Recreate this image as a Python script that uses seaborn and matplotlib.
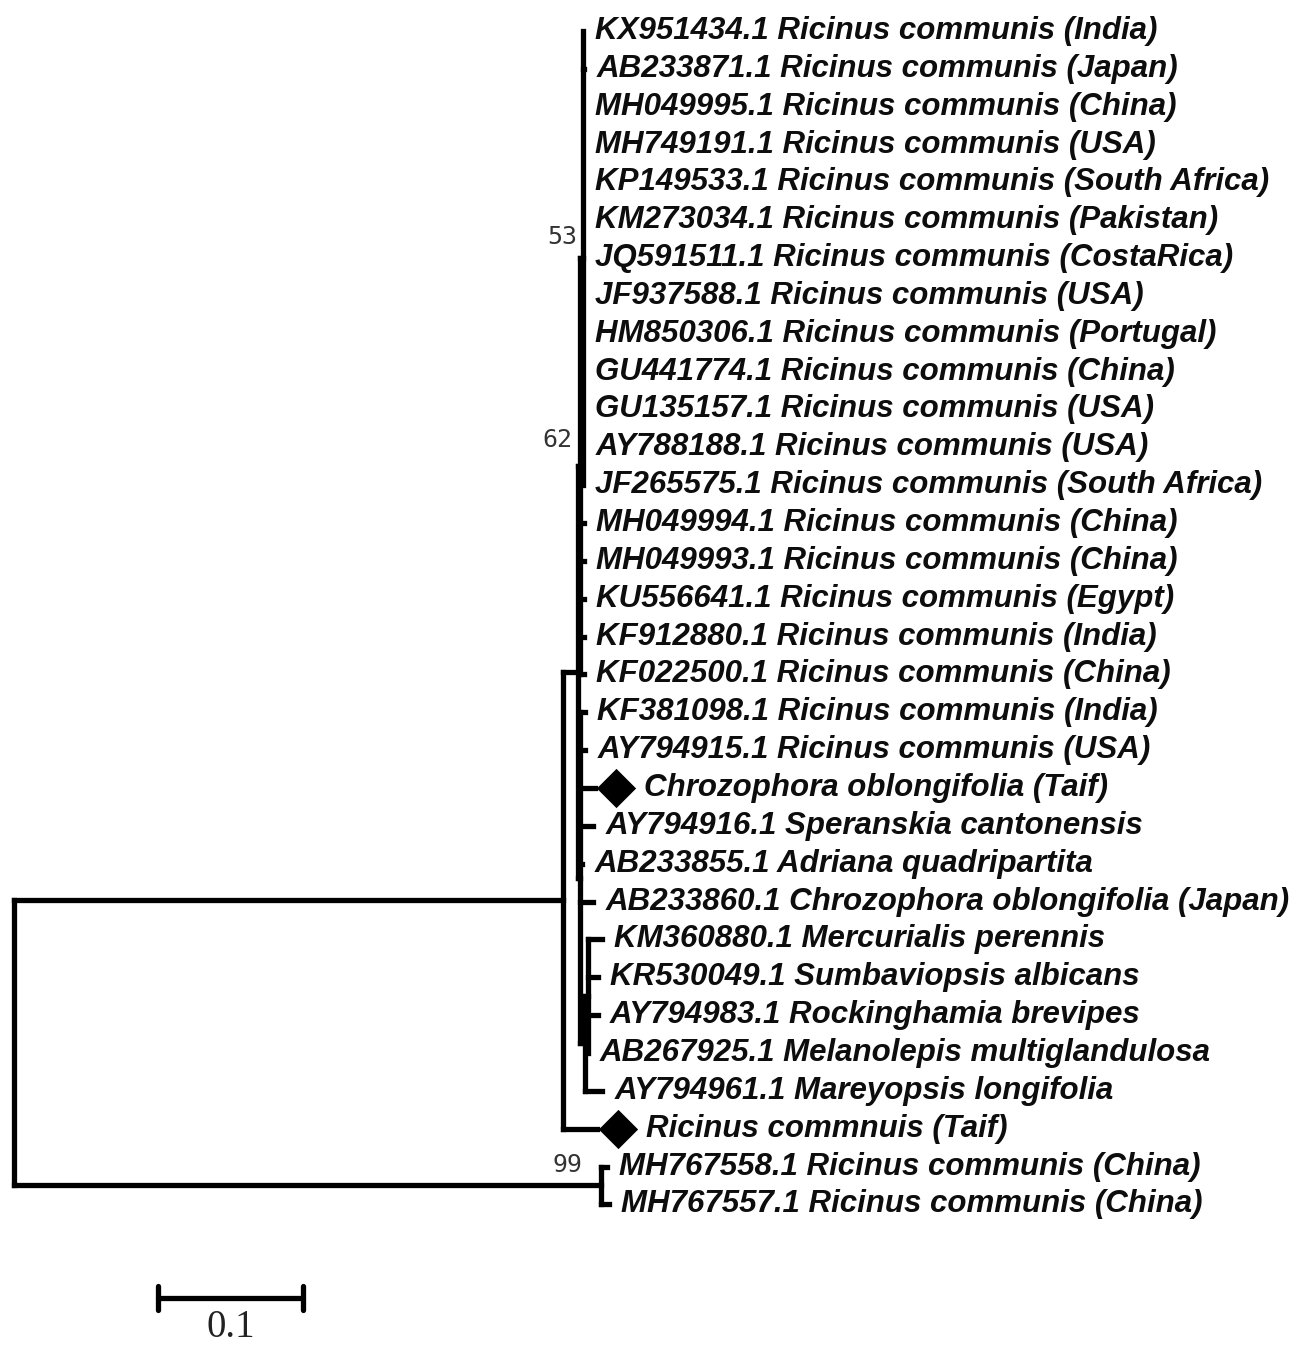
import matplotlib
matplotlib.use("Agg")
import matplotlib.pyplot as plt
import seaborn as sns
import pandas as pd
from matplotlib.collections import LineCollection

# ---------------- data ----------------
tip_labels = [
    "KX951434.1 Ricinus communis (India)",
    "AB233871.1 Ricinus communis (Japan)",
    "MH049995.1 Ricinus communis (China)",
    "MH749191.1 Ricinus communis (USA)",
    "KP149533.1 Ricinus communis (South Africa)",
    "KM273034.1 Ricinus communis (Pakistan)",
    "JQ591511.1 Ricinus communis (CostaRica)",
    "JF937588.1 Ricinus communis (USA)",
    "HM850306.1 Ricinus communis (Portugal)",
    "GU441774.1 Ricinus communis (China)",
    "GU135157.1 Ricinus communis (USA)",
    "AY788188.1 Ricinus communis (USA)",
    "JF265575.1 Ricinus communis (South Africa)",
    "MH049994.1 Ricinus communis (China)",
    "MH049993.1 Ricinus communis (China)",
    "KU556641.1 Ricinus communis (Egypt)",
    "KF912880.1 Ricinus communis (India)",
    "KF022500.1 Ricinus communis (China)",
    "KF381098.1 Ricinus communis (India)",
    "AY794915.1 Ricinus communis (USA)",
    "Chrozophora oblongifolia (Taif)",
    "AY794916.1 Speranskia cantonensis",
    "AB233855.1 Adriana quadripartita",
    "AB233860.1 Chrozophora oblongifolia (Japan)",
    "KM360880.1 Mercurialis perennis",
    "KR530049.1 Sumbaviopsis albicans",
    "AY794983.1 Rockinghamia brevipes",
    "AB267925.1 Melanolepis multiglandulosa",
    "AY794961.1 Mareyopsis longifolia",
    "Ricinus commnuis (Taif)",
    "MH767558.1 Ricinus communis (China)",
    "MH767557.1 Ricinus communis (China)",
]
tip_parent = (["n53"] * 13 + ["n62"] * 5 + ["D"] * 6 + ["E"] * 4 + ["F"]
              + ["A"] + ["n99"] * 2)
tip_length = [0, 0.001, 0, 0, 0, 0, 0, 0, 0, 0, 0, 0, 0,
              0.0028, 0.0028, 0.0028, 0.0028, 0.0028,
              0.0034, 0.0034, 0.0103, 0.009, 0.0014, 0.009,
              0.0097, 0.0069, 0.0069, 0.0,
              0.0117,
              0.0234,
              0.0041, 0.0055]

node_names = ["root", "A", "B", "n62", "n53", "D", "F", "E", "n99"]
node_parent = [None, "root", "A", "B", "n62", "B", "D", "F", "root"]
node_length = [0.0, 0.3786, 0.0103, 0.0014, 0.0021, 0.0014, 0.0034, 0.002, 0.4048]
bootstrap = {"n53": "53", "n62": "62", "n99": "99"}
marked_tips = ["Chrozophora oblongifolia (Taif)", "Ricinus commnuis (Taif)"]
scale_value = 0.1
scale_label = "0.1"

# ---------------- layout computation ----------------
depth = {}
def node_depth(name):
    if name in depth:
        return depth[name]
    i = node_names.index(name)
    p = node_parent[i]
    d = node_length[i] + (node_depth(p) if p else 0.0)
    depth[name] = d
    return d
for n in node_names:
    node_depth(n)

children = {n: [] for n in node_names}
for i, p in enumerate(node_parent):
    if p:
        children[p].append(("node", node_names[i]))
for t, p in enumerate(tip_parent):
    children[p].append(("tip", t))

tip_x = [depth[tip_parent[t]] + tip_length[t] for t in range(len(tip_labels))]
node_y = {}
def get_y(kind, key):
    if kind == "tip":
        return float(key)
    if key in node_y:
        return node_y[key]
    ys = [get_y(k, c) for k, c in children[key]]
    node_y[key] = (min(ys) + max(ys)) / 2
    return node_y[key]
get_y("node", "root")

segs = []
for n in node_names:
    ys = [get_y(k, c) for k, c in children[n]]
    segs.append([(depth[n], min(ys)), (depth[n], max(ys))])
    for k, c in children[n]:
        cx = tip_x[c] if k == "tip" else depth[c]
        cy = get_y(k, c)
        if cx > depth[n]:
            segs.append([(depth[n], cy), (cx, cy)])

# ---------------- drawing ----------------
sns.set_theme(style="white")
plt.rcParams["font.family"] = ["Liberation Sans", "DejaVu Sans"]

W, H = 1305, 1345
fig = plt.figure(figsize=(W / 100, H / 100), dpi=100)
ax = fig.add_axes([0, 0, 1, 1])
px_per_unit = 1450.0
root_px = 14.0
tip0_px, tip_step = 31.0, 37.85
ax.set_xlim(-root_px / px_per_unit, (W - root_px) / px_per_unit)
ax.set_ylim((H - tip0_px) / tip_step, -tip0_px / tip_step)
ax.axis("off")

lc = LineCollection(segs, colors="black", linewidths=3.8, capstyle="projecting")
ax.add_collection(lc)

label_off = 0.0085
diamond_off = 0.0145
marked_text_off = 0.034
df_marks = pd.DataFrame({
    "x": [tip_x[tip_labels.index(m)] + diamond_off for m in marked_tips],
    "y": [float(tip_labels.index(m)) for m in marked_tips],
})
sns.scatterplot(data=df_marks, x="x", y="y", marker="D", s=400, color="black",
                edgecolor="black", linewidth=0, ax=ax, legend=False)

for t, lab in enumerate(tip_labels):
    off = marked_text_off if lab in marked_tips else label_off
    ax.text(tip_x[t] + off, t, lab, fontsize=22.5, fontweight="bold", fontstyle="italic",
            color="#0d0d0d", va="center", ha="left")

bootstrap_dx = {"n53": 0.0042, "n62": 0.0052, "n99": 0.013}
bootstrap_dy = {"n53": -0.55, "n62": -0.7, "n99": -0.55}
for n, b in bootstrap.items():
    ax.text(depth[n] - bootstrap_dx[n], node_y[n] + bootstrap_dy[n], b, fontsize=18,
            color="#333333", family="DejaVu Sans Mono", ha="right", va="center")

# scale bar
sb_x0 = (158 - root_px) / px_per_unit
sb_y = (1298 - tip0_px) / tip_step
ax.plot([sb_x0, sb_x0 + scale_value], [sb_y, sb_y], color="black", lw=3.8)
for xx in (sb_x0, sb_x0 + scale_value):
    ax.plot([xx, xx], [sb_y - 0.32, sb_y + 0.32], color="black", lw=3.8)
ax.text(sb_x0 + scale_value / 2, sb_y + 0.77, scale_label, fontsize=28,
        family=["Liberation Serif", "DejaVu Serif"], color="#222222",
        ha="center", va="center")

fig.savefig("out.png", dpi=100, facecolor="white")
